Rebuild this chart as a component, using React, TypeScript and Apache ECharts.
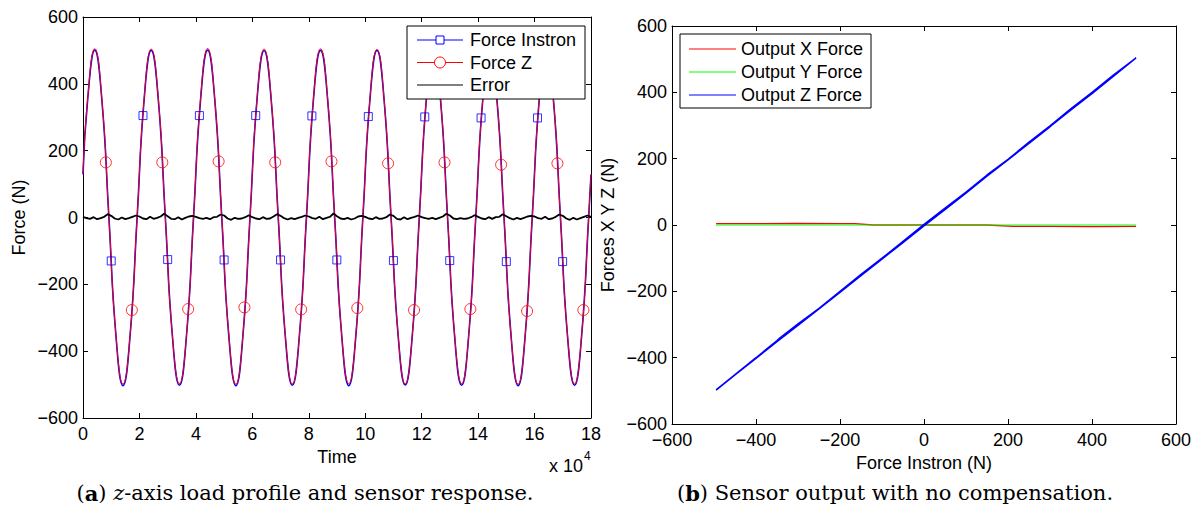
import React, { useEffect, useRef } from "react";
import * as echarts from "echarts";

// ---------- Left panel: z-axis load profile ----------
const timeT = [
  0, 1670, 4170, 6670, 9170, 11670, 14170, 16670,
  19170, 21670, 24170, 26670, 29170, 31670, 34170, 36670,
  39170, 41670, 44170, 46670, 49170, 51670, 54170, 56670,
  59170, 61670, 64170, 66670, 69170, 71670, 74170, 76670,
  79170, 81670, 84170, 86670, 89170, 91670, 94170, 96670,
  99170, 101670, 104170, 106670, 109170, 111670, 114170, 116670,
  119170, 121670, 124170, 126670, 129170, 131670, 134170, 136670,
  139170, 141670, 144170, 146670, 149170, 151670, 154170, 156670,
  159170, 161670, 164170, 166670, 169170, 171670, 174170, 176670,
  179170, 180000,
];

const forceInstron = [
  129, 355, 501, 353, 1, -353, -503, -355,
  -1, 354, 500, 354, 0, -354, -502, -354,
  1, 353, 501, 355, -1, -355, -503, -353,
  0, 354, 499, 353, 1, -354, -502, -354,
  -1, 355, 500, 354, 0, -353, -503, -355,
  0, 353, 500, 354, -1, -354, -501, -354,
  1, 354, 499, 353, 0, -355, -502, -353,
  0, 354, 498, 352, 1, -354, -503, -354,
  -1, 353, 499, 353, 0, -354, -502, -355,
  0, 128,
];

const forceZ = [
  131, 357, 505, 356, 2, -352, -498, -353,
  1, 356, 504, 357, 1, -353, -497, -352,
  2, 358, 506, 355, 3, -351, -499, -352,
  0, 356, 504, 356, 1, -352, -498, -354,
  1, 357, 505, 357, 2, -353, -497, -352,
  2, 355, 503, 355, 0, -352, -498, -353,
  1, 356, 504, 356, 2, -351, -497, -352,
  0, 356, 503, 354, 1, -353, -499, -354,
  1, 355, 504, 355, 1, -352, -498, -353,
  1, 130,
];

const errorT = [
  0, 1250, 2500, 3750, 5000, 6250, 7500, 8750, 10000, 11250, 12500, 13750, 15000, 16250, 17500, 18750,
  20000, 21250, 22500, 23750, 25000, 26250, 27500, 28750, 30000, 31250, 32500, 33750, 35000, 36250, 37500, 38750,
  40000, 41250, 42500, 43750, 45000, 46250, 47500, 48750, 50000, 51250, 52500, 53750, 55000, 56250, 57500, 58750,
  60000, 61250, 62500, 63750, 65000, 66250, 67500, 68750, 70000, 71250, 72500, 73750, 75000, 76250, 77500, 78750,
  80000, 81250, 82500, 83750, 85000, 86250, 87500, 88750, 90000, 91250, 92500, 93750, 95000, 96250, 97500, 98750,
  100000, 101250, 102500, 103750, 105000, 106250, 107500, 108750, 110000, 111250, 112500, 113750, 115000, 116250, 117500, 118750,
  120000, 121250, 122500, 123750, 125000, 126250, 127500, 128750, 130000, 131250, 132500, 133750, 135000, 136250, 137500, 138750,
  140000, 141250, 142500, 143750, 145000, 146250, 147500, 148750, 150000, 151250, 152500, 153750, 155000, 156250, 157500, 158750,
  160000, 161250, 162500, 163750, 165000, 166250, 167500, 168750, 170000, 171250, 172500, 173750, 175000, 176250, 177500, 178750,
  180000,
];

const errorVals = [
  2, -2, -4, 1, -5, -2, 2, 10, 5, -3, -6, 0, -5, -2, 2, 6,
  3, -3, -5, 2, -4, -1, 3, 11, 4, -4, -5, 1, -6, -1, 3, 5,
  2, -2, -4, -1, -5, 1, 2, 9, 6, -3, -7, -1, -4, -3, 1, 7,
  1, -3, -5, 1, -4, -3, 3, 10, 5, -2, -6, -2, -5, -1, 2, 6,
  3, -2, -4, 2, -5, -1, 2, 12, 4, -3, -5, -1, -6, -3, 3, 5,
  2, -3, -5, 1, -4, -3, 1, 9, 5, -4, -6, 1, -5, -1, 2, 6,
  1, -2, -4, -1, -5, -1, 3, 11, 6, -3, -5, -2, -4, -3, 1, 7,
  2, -3, -5, 1, -4, 1, 2, 10, 4, -2, -6, -1, -5, -1, 3, 5,
  3, -2, -4, 2, -5, -3, 2, 9, 5, -3, -7, -1, -6, -2, 2, 6,
  2,
];

const instronMarkT = [
  10000, 21250, 30000, 41250, 50000, 61200, 70000, 81100, 89950,
  101100, 110000, 121100, 129950, 141050, 150000, 161050, 169950,
];
const instronMarkV = [
  -130, 305, -126, 305, -127, 305, -127, 304, -127,
  302, -129, 301, -129, 298, -132, 298, -132,
];

const forceZMarkT = [
  8100, 17300, 28100, 37250, 48050, 57200, 68100, 77300, 88050,
  97200, 108100, 117300, 128100, 137250, 148150, 157350, 168100, 177300,
];
const forceZMarkV = [
  165, -277, 165, -274, 168, -269, 165, -275, 168,
  -271, 162, -277, 165, -274, 158, -280, 162, -277,
];

// ---------- Right panel: sensor output vs Instron ----------
const instronForZ = [
  -495, -450, -400, -350, -343, -300, -250, -200, -150, -100, -50, 0, 50, 100, 150, 200, 250, 300, 350, 400, 450, 505,
  450, 400, 350, 300, 250, 200, 150, 100, 50, 0, -50, -100, -150, -200, -250, -300, -350, -400, -450, -495,
];
const outputZ = [
  -497, -451, -400, -348, -340, -298, -251, -200, -149, -100, -49, 2, 51, 99, 151, 198, 250, 299, 351, 400, 451, 504,
  447, 396, 347, 296, 246, 196, 147, 96, 46, -3, -53, -103, -153, -203, -253, -303, -352, -402, -452, -498,
];
const instronForX = [-495, -400, -300, -200, -165, -120, 0, 150, 212, 300, 400, 505];
const outputX = [4, 4, 5, 4, 4, 0, 0, 0, -4, -4, -5, -4];
const instronForY = [-495, -200, 0, 200, 505];
const outputY = [0, 0, 0, 0, 0];

const leftLegend = ["Force Instron", "Force Z", "Error"];
const rightLegend = ["Output X Force", "Output Y Force", "Output Z Force"];

const FONT = "Liberation Sans";
const SERIF = "DejaVu Serif";
const BLUE = "#0000ff";
const RED = "#ff0000";
const GREEN = "#00ff00";

const minus = (s: string) => s.replace("-", "\u2212");

function valueAxis(o: any) {
  return {
    type: "value",
    gridIndex: o.gridIndex,
    position: o.position,
    min: o.min,
    max: o.max,
    interval: o.interval,
    name: o.name,
    nameLocation: "middle",
    nameGap: o.nameGap,
    nameTextStyle: { color: "#000", fontSize: 18, fontFamily: FONT },
    axisLine: { show: true, onZero: false, lineStyle: { color: "#000", width: 1 } },
    axisTick: { show: true, inside: true, length: 5, lineStyle: { color: "#000", width: 1 } },
    splitLine: { show: false },
    axisLabel: {
      show: o.labels !== false,
      color: "#000",
      fontSize: 18,
      fontFamily: FONT,
      margin: o.margin,
      formatter: o.formatter,
    },
  };
}

const pairs = (xs: number[], ys: number[]) => xs.map((x, i) => [x, ys[i]]);

const Z = 100;

function legendBox(x: number, y: number, w: number, h: number, rows: number[], lineX1: number, lineX2: number, textX: number, names: string[], colors: string[], markers: (string | null)[]) {
  const children: any[] = [
    { type: "rect", z: Z, shape: { x, y, width: w, height: h }, style: { fill: "#fff", stroke: "#000", lineWidth: 1 } },
  ];
  names.forEach((n, i) => {
    const cy = rows[i];
    children.push({ type: "line", z: Z + 1, shape: { x1: lineX1, y1: cy, x2: lineX2, y2: cy }, style: { stroke: colors[i], lineWidth: 1 } });
    const mx = (lineX1 + lineX2) / 2;
    if (markers[i] === "rect") {
      children.push({ type: "rect", z: Z + 2, shape: { x: mx - 4, y: cy - 4, width: 8, height: 8 }, style: { fill: "#fff", stroke: colors[i], lineWidth: 1 } });
    } else if (markers[i] === "circle") {
      children.push({ type: "circle", z: Z + 2, shape: { cx: mx, cy, r: 5.5 }, style: { fill: "#fff", stroke: colors[i], lineWidth: 1 } });
    }
    children.push({
      type: "text",
      z: Z + 2,
      x: textX,
      y: cy,
      style: { text: n, fill: "#000", fontSize: 18, fontFamily: FONT, textAlign: "left", textVerticalAlign: "middle", verticalAlign: "middle" },
    });
  });
  return { type: "group", z: Z, children };
}

const option: any = {
  animation: false,
  backgroundColor: "#fff",
  textStyle: { fontFamily: FONT },
  grid: [
    { left: 83, top: 17, width: 508, height: 401, containLabel: false },
    { left: 672, top: 26, width: 504, height: 398, containLabel: false },
  ],
  xAxis: [
    valueAxis({ gridIndex: 0, position: "bottom", min: 0, max: 180000, interval: 20000, name: "Time", nameGap: 28, margin: 7, formatter: (v: number) => String(v / 10000) }),
    valueAxis({ gridIndex: 0, position: "top", min: 0, max: 180000, interval: 20000, labels: false }),
    valueAxis({ gridIndex: 1, position: "bottom", min: -600, max: 600, interval: 200, name: "Force Instron (N)", nameGap: 28, margin: 7, formatter: (v: number) => minus(String(v)) }),
    valueAxis({ gridIndex: 1, position: "top", min: -600, max: 600, interval: 200, labels: false }),
  ],
  yAxis: [
    valueAxis({ gridIndex: 0, position: "left", min: -600, max: 600, interval: 200, name: "Force (N)", nameGap: 55, margin: 5, formatter: (v: number) => minus(String(v)) }),
    valueAxis({ gridIndex: 0, position: "right", min: -600, max: 600, interval: 200, labels: false }),
    valueAxis({ gridIndex: 1, position: "left", min: -600, max: 600, interval: 200, name: "Forces X Y Z (N)", nameGap: 55, margin: 5, formatter: (v: number) => minus(String(v)) }),
    valueAxis({ gridIndex: 1, position: "right", min: -600, max: 600, interval: 200, labels: false }),
  ],
  series: [
    {
      name: leftLegend[0], type: "line", xAxisIndex: 0, yAxisIndex: 0,
      data: pairs(timeT, forceInstron), smooth: 0.5, symbol: "none",
      lineStyle: { color: BLUE, width: 1.6 },
    },
    {
      name: leftLegend[1], type: "line", xAxisIndex: 0, yAxisIndex: 0,
      data: pairs(timeT, forceZ), smooth: 0.5, symbol: "none",
      lineStyle: { color: RED, width: 1 },
    },
    {
      name: leftLegend[2], type: "line", xAxisIndex: 0, yAxisIndex: 0,
      data: pairs(errorT, errorVals), symbol: "none",
      lineStyle: { color: "#000", width: 1.8 },
    },
    {
      name: leftLegend[0] + " markers", type: "scatter", xAxisIndex: 0, yAxisIndex: 0,
      data: pairs(instronMarkT, instronMarkV), symbol: "rect", symbolSize: 8,
      itemStyle: { color: "rgba(0,0,0,0)", borderColor: BLUE, borderWidth: 1 }, z: 5,
    },
    {
      name: leftLegend[1] + " markers", type: "scatter", xAxisIndex: 0, yAxisIndex: 0,
      data: pairs(forceZMarkT, forceZMarkV), symbol: "circle", symbolSize: 11,
      itemStyle: { color: "rgba(0,0,0,0)", borderColor: RED, borderWidth: 1 }, z: 5,
    },
    {
      name: rightLegend[0], type: "line", xAxisIndex: 2, yAxisIndex: 2,
      data: pairs(instronForX, outputX), symbol: "none",
      lineStyle: { color: RED, width: 1.4 },
    },
    {
      name: rightLegend[1], type: "line", xAxisIndex: 2, yAxisIndex: 2,
      data: pairs(instronForY, outputY), symbol: "none",
      lineStyle: { color: GREEN, width: 1 },
    },
    {
      name: rightLegend[2], type: "line", xAxisIndex: 2, yAxisIndex: 2,
      data: pairs(instronForZ, outputZ), symbol: "none",
      lineStyle: { color: BLUE, width: 1.4 },
    },
  ],
  graphic: [
    legendBox(407, 26, 178, 73, [40, 62.5, 85], 417, 463, 470, leftLegend, [BLUE, RED, "#000"], ["rect", "circle", null]),
    legendBox(680, 34, 191, 74, [49, 72, 95], 689, 736, 741, rightLegend, [RED, GREEN, BLUE], [null, null, null]),
    {
      type: "text", z: Z, x: 549, y: 466,
      style: { text: "x 10", fill: "#000", fontSize: 18, fontFamily: FONT, textAlign: "left", textVerticalAlign: "middle", verticalAlign: "middle" },
    },
    {
      type: "text", z: Z, x: 584, y: 456,
      style: { text: "4", fill: "#000", fontSize: 12, fontFamily: FONT, textAlign: "left", textVerticalAlign: "middle", verticalAlign: "middle" },
    },
    {
      type: "text", z: Z, x: 305, y: 493,
      style: {
        text: "{p|(}{b|a}{p|) }{i|z}{p|-axis load profile and sensor response.}",
        textAlign: "center", textVerticalAlign: "middle", verticalAlign: "middle",
        fill: "#000", fontSize: 21, fontFamily: SERIF,
        rich: {
          p: { fontSize: 21, fontFamily: SERIF, fill: "#000", color: "#000" },
          b: { fontSize: 21, fontFamily: SERIF, fontWeight: "bold", fill: "#000", color: "#000" },
          i: { fontSize: 21, fontFamily: SERIF, fontStyle: "italic", fill: "#000", color: "#000" },
        },
      },
    },
    {
      type: "text", z: Z, x: 895, y: 493,
      style: {
        text: "{p|(}{b|b}{p|) Sensor output with no compensation.}",
        textAlign: "center", textVerticalAlign: "middle", verticalAlign: "middle",
        fill: "#000", fontSize: 21, fontFamily: SERIF,
        rich: {
          p: { fontSize: 21, fontFamily: SERIF, fill: "#000", color: "#000" },
          b: { fontSize: 21, fontFamily: SERIF, fontWeight: "bold", fill: "#000", color: "#000" },
        },
      },
    },
  ],
};

export default function App() {
  const ref = useRef<HTMLDivElement>(null);
  useEffect(() => {
    if (!ref.current) return;
    const chart = echarts.init(ref.current, null, { renderer: "svg" });
    chart.setOption(option);
    return () => chart.dispose();
  }, []);
  return (
    <div
      ref={ref}
      style={{ position: "fixed", left: 0, top: 0, width: 1199, height: 516, background: "#fff" }}
    />
  );
}
